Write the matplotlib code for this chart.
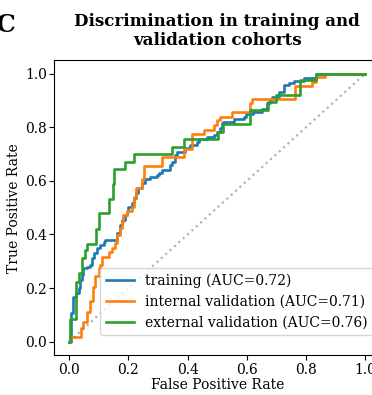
import numpy as np
import matplotlib
matplotlib.use("Agg")
import matplotlib.pyplot as plt

plt.rcParams['font.family'] = ['DejaVu Serif']

# ROC step corners: at fpr x the curve rises to tpr y
train_fpr = [0.0, 0.006, 0.012, 0.024, 0.032, 0.035, 0.043, 0.048, 0.06, 0.071, 0.077,
             0.082, 0.094, 0.105, 0.116, 0.122, 0.161, 0.172, 0.178, 0.189, 0.195,
             0.2, 0.212, 0.217, 0.226, 0.231, 0.246, 0.257, 0.274, 0.296, 0.302,
             0.313, 0.341, 0.347, 0.358, 0.364, 0.392, 0.409, 0.431, 0.437, 0.465,
             0.488, 0.499, 0.508, 0.516, 0.521, 0.555, 0.589, 0.598, 0.62, 0.651,
             0.668, 0.677, 0.685, 0.71, 0.724, 0.744, 0.758, 0.792, 0.834, 1.0]
train_tpr = [0.0, 0.106, 0.168, 0.18, 0.2, 0.23, 0.249, 0.274, 0.28, 0.286, 0.311,
             0.33, 0.348, 0.361, 0.373, 0.379, 0.404, 0.435, 0.454, 0.473, 0.485,
             0.504, 0.516, 0.535, 0.554, 0.572, 0.591, 0.606, 0.616, 0.622, 0.628,
             0.64, 0.659, 0.672, 0.697, 0.709, 0.722, 0.734, 0.746, 0.755, 0.765,
             0.771, 0.784, 0.796, 0.815, 0.821, 0.83, 0.84, 0.85, 0.858, 0.867,
             0.89, 0.902, 0.914, 0.933, 0.958, 0.966, 0.974, 0.983, 1.0, 1.0]

int_fpr = [0.0, 0.003, 0.04, 0.048, 0.06, 0.069, 0.08, 0.088, 0.099, 0.105, 0.11,
           0.133, 0.144, 0.155, 0.161, 0.172, 0.178, 0.183, 0.195, 0.212, 0.217,
           0.226, 0.246, 0.251, 0.313, 0.386, 0.414, 0.454, 0.488, 0.499, 0.51,
           0.55, 0.611, 0.617, 0.764, 0.82, 0.834, 0.865, 1.0]
int_tpr = [0.0, 0.019, 0.05, 0.075, 0.112, 0.153, 0.205, 0.243, 0.274, 0.286, 0.317,
           0.336, 0.348, 0.367, 0.398, 0.423, 0.448, 0.473, 0.489, 0.504, 0.541,
           0.572, 0.606, 0.656, 0.688, 0.718, 0.774, 0.79, 0.809, 0.827, 0.84,
           0.856, 0.89, 0.906, 0.955, 0.97, 0.989, 1.0, 1.0]

ext_fpr = [0.0, 0.003, 0.024, 0.034, 0.043, 0.052, 0.06, 0.09, 0.102, 0.133, 0.148,
           0.15, 0.189, 0.217, 0.347, 0.386, 0.504, 0.521, 0.611, 0.672, 0.70,
           0.778, 0.834, 1.0]
ext_tpr = [0.0, 0.085, 0.224, 0.256, 0.311, 0.342, 0.365, 0.42, 0.48, 0.531, 0.59,
           0.645, 0.672, 0.70, 0.728, 0.755, 0.784, 0.812, 0.865, 0.895, 0.922,
           0.976, 1.0, 1.0]

labels = ['training (AUC=0.72)', 'internal validation (AUC=0.71)',
          'external validation (AUC=0.76)']

fig = plt.figure(figsize=(3.72, 3.95), dpi=100)
ax = fig.add_axes([0.1465, 0.1013, 0.875, 0.746])

ax.plot(train_fpr, train_tpr, drawstyle='steps-post', lw=1.9, color='#1f77b4', label=labels[0])
ax.plot(int_fpr, int_tpr, drawstyle='steps-post', lw=1.9, color='#ff7f0e', label=labels[1])
ax.plot(ext_fpr, ext_tpr, drawstyle='steps-post', lw=1.9, color='#2ca02c', label=labels[2])
ax.plot([0, 1], [0, 1], ls=':', lw=1.6, color='grey', alpha=0.6)

ax.set_xlim(-0.05, 1.05)
ax.set_ylim(-0.05, 1.05)
ax.set_xticks([0, 0.2, 0.4, 0.6, 0.8, 1.0])
ax.set_yticks([0, 0.2, 0.4, 0.6, 0.8, 1.0])
ax.tick_params(labelsize=10, pad=2)
ax.set_xlabel('False Positive Rate', fontsize=10, labelpad=1)
ax.set_ylabel('True Positive Rate', fontsize=10, labelpad=3)
ax.set_title('Discrimination in training and\nvalidation cohorts', fontsize=12,
             fontweight='bold', linespacing=1.15, pad=11)
ax.legend(loc='lower right', bbox_to_anchor=(1.0, 0.044), fontsize=10)

fig.text(-0.012, 0.92, 'C', fontsize=18, fontweight='bold')

fig.savefig('out.png', dpi=100)
